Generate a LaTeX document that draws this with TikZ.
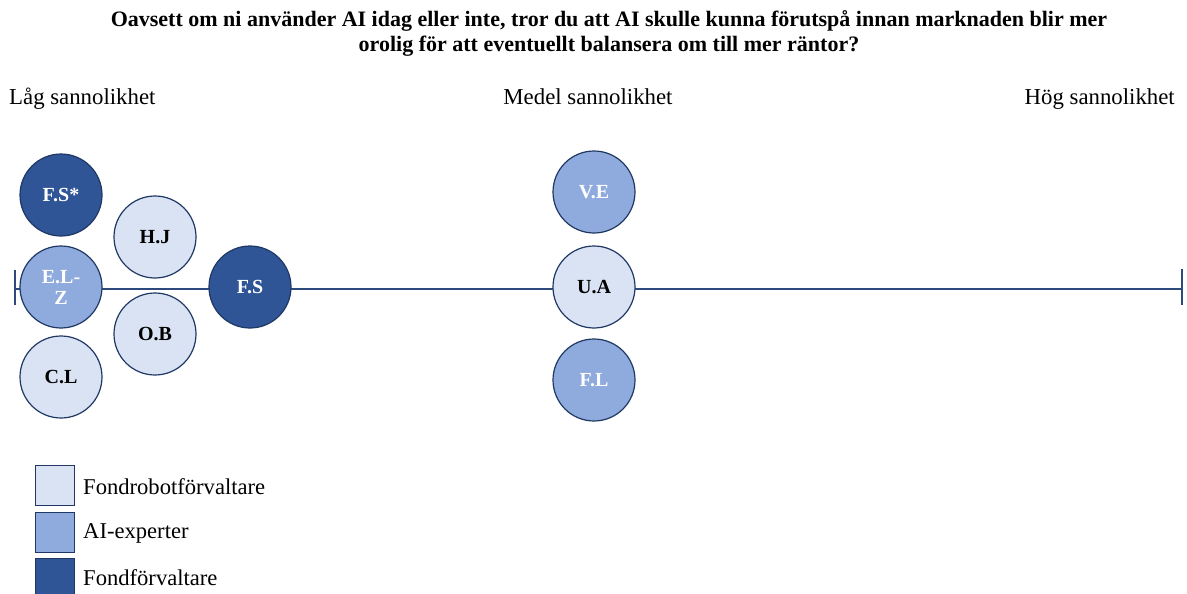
\documentclass[tikz,border=0pt]{standalone}
\usepackage{fontspec}
\setmainfont{Liberation Serif}
\definecolor{lightb}{HTML}{DAE3F3}
\definecolor{midb}{HTML}{8FAADC}
\definecolor{darkb}{HTML}{2F5597}
\definecolor{edgeb}{HTML}{1F3864}
\definecolor{axisb}{HTML}{2E4A7D}
\begin{document}
\begin{tikzpicture}[x=1pt,y=-1pt,
  person/.style={circle,draw=edgeb,line width=1.2pt,minimum size=82pt,inner sep=0pt,
    font=\fontsize{20}{22}\selectfont\bfseries,align=center},
  robo/.style={person,fill=lightb,text=black},
  aiexp/.style={person,fill=midb,text=white},
  fund/.style={person,fill=darkb,text=white},
  scalelabel/.style={font=\fontsize{22.8}{26}\selectfont,inner sep=0pt},
  legbox/.style={draw=edgeb,line width=1pt,minimum width=39pt,minimum height=40pt,inner sep=0pt},
  legtext/.style={font=\fontsize{22.6}{26}\selectfont,anchor=west,inner sep=0pt},
  axisline/.style={draw=axisb,line width=1.8pt}]
\useasboundingbox (0,0) rectangle (1187,594);
% title
\node[font=\fontsize{22}{25}\selectfont\bfseries,align=center] (title) at (609,33)
  {Oavsett om ni använder AI idag eller inte, tror du att AI skulle kunna förutspå innan marknaden blir mer\\
   orolig för att eventuellt balansera om till mer räntor?};
% scale labels
\node[scalelabel,anchor=base west] (low) at (9,104) {Låg sannolikhet};
\node[scalelabel,anchor=base] (mid) at (588,104) {Medel sannolikhet};
\node[scalelabel,anchor=base east] (high) at (1175,104) {Hög sannolikhet};
% axis
\coordinate (L) at (15,289);
\coordinate (R) at (1182,289);
\coordinate (Lt) at (15,270);
\coordinate (Lb) at (15,305);
\coordinate (Rt) at (1182,269);
\coordinate (Rb) at (1182,305);
\draw[axisline] (L) -- (R);
\draw[axisline] (Lt) -- (Lb);
\draw[axisline] (Rt) -- (Rb);
% circles
\node[fund] (fs1) at (61,195) {F.S*};
\node[robo] (hj) at (155,237) {H.J};
\node[aiexp] (elz) at (61,287) {E.L-\\[-1pt]Z};
\node[fund] (fs2) at (250,287) {F.S};
\node[robo] (ob) at (155,334) {O.B};
\node[robo] (cl) at (61,377) {C.L};
\node[aiexp] (ve) at (594,192) {V.E};
\node[robo] (ua) at (594,287) {U.A};
\node[aiexp] (fl) at (594,380) {F.L};
% legend
\node[legbox,fill=lightb] (k1) at (54.5,485) {};
\node[legbox,fill=midb] (k2) at (54.5,532) {};
\node[legbox,fill=darkb] (k3) at (54.5,578) {};
\node[legtext] (t1) at (83,487) {Fondrobotförvaltare};
\node[legtext] (t2) at (83,533) {AI-experter};
\node[legtext] (t3) at (83,578) {Fondförvaltare};
\end{tikzpicture}
\end{document}
